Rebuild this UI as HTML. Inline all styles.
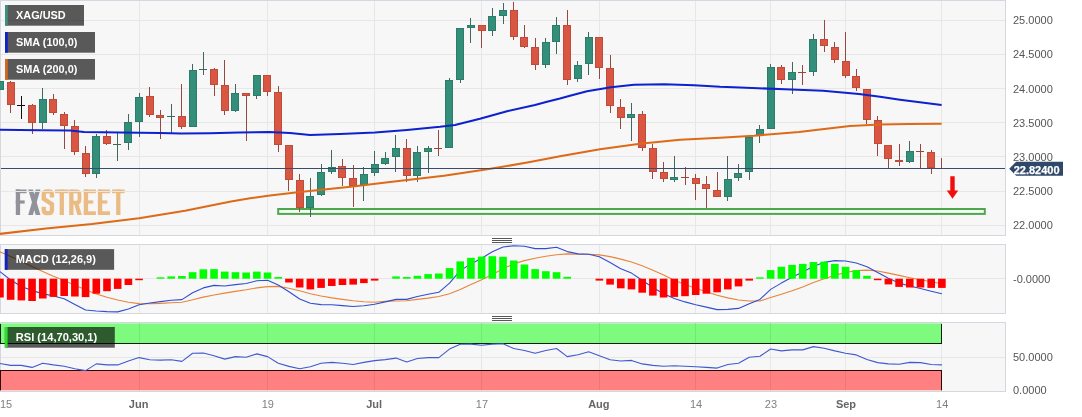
<!DOCTYPE html>
<html><head><meta charset="utf-8"><title>XAG/USD</title>
<style>html,body{margin:0;padding:0;background:#fff;}body{width:1082px;height:417px;overflow:hidden;font-family:"Liberation Sans",sans-serif;}svg{display:block;will-change:transform;}</style></head>
<body>
<svg width="1082" height="417" viewBox="0 0 1082 417" font-family="'Liberation Sans', sans-serif">
<defs><clipPath id="c1"><rect x="0" y="1" width="1005" height="234"/></clipPath><clipPath id="c2"><rect x="0" y="245" width="1005" height="68"/></clipPath><clipPath id="c3"><rect x="0" y="323" width="1005" height="68"/></clipPath></defs>
<rect width="1082" height="417" fill="#fff"/>
<rect x="0.5" y="0.5" width="1005" height="235" fill="#f7f7f7" stroke="#d4d7e0" stroke-width="1"/>
<rect x="0.5" y="244.5" width="1005" height="69" fill="#f7f7f7" stroke="#d4d7e0" stroke-width="1"/>
<rect x="0.5" y="322.5" width="1005" height="69" fill="#f7f7f7" stroke="#d4d7e0" stroke-width="1"/>
<rect x="15.8" y="189.5" width="4.3" height="25.5" fill="#92929b"/>
<rect x="15.8" y="189.5" width="10.8" height="3.7" fill="#92929b"/>
<rect x="15.8" y="200.4" width="8.86" height="3.2" fill="#92929b"/>
<path d="M28.2 189.5 h4.7 L40.4 215 h-4.7 Z" fill="#92929b"/>
<path d="M40.4 189.5 h-4.7 L28.2 215 h4.7 Z" fill="#92929b"/>
<path d="M51.95 197.55 V194.55 Q51.95 191.35 48.75 191.35 H46.95 Q43.75 191.35 43.75 194.55 V198.85 L51.95 204.15 V209.95 Q51.95 213.15 48.75 213.15 H46.95 Q43.75 213.15 43.75 209.95 V206.65" fill="none" stroke="#eabb84" stroke-width="4.3"/>
<rect x="55" y="189.5" width="13.6" height="3.7" fill="#eabb84"/>
<rect x="59.65" y="189.5" width="4.3" height="25.5" fill="#eabb84"/>
<rect x="69.2" y="189.5" width="4.3" height="25.5" fill="#eabb84"/>
<path d="M71.35 191.35 H76.45 Q79.45 191.35 79.45 194.35 V199.7 Q79.45 202.7 76.45 202.7 H71.35" fill="none" stroke="#eabb84" stroke-width="3.7"/>
<path d="M73.8 202.7 h4.4 L81.8 215 h-4.5 Z" fill="#eabb84"/>
<rect x="83.8" y="189.5" width="4.3" height="25.5" fill="#eabb84"/>
<rect x="83.8" y="189.5" width="12.1" height="3.7" fill="#eabb84"/>
<rect x="83.8" y="211.3" width="12.1" height="3.7" fill="#eabb84"/>
<rect x="83.8" y="200.4" width="9.44" height="3.2" fill="#eabb84"/>
<rect x="97.9" y="189.5" width="4.3" height="25.5" fill="#eabb84"/>
<rect x="97.9" y="189.5" width="12.1" height="3.7" fill="#eabb84"/>
<rect x="97.9" y="211.3" width="12.1" height="3.7" fill="#eabb84"/>
<rect x="97.9" y="200.4" width="9.44" height="3.2" fill="#eabb84"/>
<rect x="112" y="189.5" width="12.6" height="3.7" fill="#eabb84"/>
<rect x="116.15" y="189.5" width="4.3" height="25.5" fill="#eabb84"/>
<rect x="139" y="1" width="1" height="234" fill="#e7e7e7"/>
<rect x="267" y="1" width="1" height="234" fill="#e7e7e7"/>
<rect x="374" y="1" width="1" height="234" fill="#e7e7e7"/>
<rect x="481" y="1" width="1" height="234" fill="#e7e7e7"/>
<rect x="599" y="1" width="1" height="234" fill="#e7e7e7"/>
<rect x="695" y="1" width="1" height="234" fill="#e7e7e7"/>
<rect x="770" y="1" width="1" height="234" fill="#e7e7e7"/>
<rect x="845" y="1" width="1" height="234" fill="#e7e7e7"/>
<rect x="941" y="1" width="1" height="234" fill="#e7e7e7"/>
<rect x="139" y="245" width="1" height="68" fill="#e7e7e7"/>
<rect x="267" y="245" width="1" height="68" fill="#e7e7e7"/>
<rect x="374" y="245" width="1" height="68" fill="#e7e7e7"/>
<rect x="481" y="245" width="1" height="68" fill="#e7e7e7"/>
<rect x="599" y="245" width="1" height="68" fill="#e7e7e7"/>
<rect x="695" y="245" width="1" height="68" fill="#e7e7e7"/>
<rect x="770" y="245" width="1" height="68" fill="#e7e7e7"/>
<rect x="845" y="245" width="1" height="68" fill="#e7e7e7"/>
<rect x="941" y="245" width="1" height="68" fill="#e7e7e7"/>
<rect x="139" y="323" width="1" height="68" fill="#e7e7e7"/>
<rect x="267" y="323" width="1" height="68" fill="#e7e7e7"/>
<rect x="374" y="323" width="1" height="68" fill="#e7e7e7"/>
<rect x="481" y="323" width="1" height="68" fill="#e7e7e7"/>
<rect x="599" y="323" width="1" height="68" fill="#e7e7e7"/>
<rect x="695" y="323" width="1" height="68" fill="#e7e7e7"/>
<rect x="770" y="323" width="1" height="68" fill="#e7e7e7"/>
<rect x="845" y="323" width="1" height="68" fill="#e7e7e7"/>
<rect x="941" y="323" width="1" height="68" fill="#e7e7e7"/>
<rect x="1" y="20" width="1004" height="1" fill="#e7e7e7"/>
<rect x="1" y="54" width="1004" height="1" fill="#e7e7e7"/>
<rect x="1" y="88" width="1004" height="1" fill="#e7e7e7"/>
<rect x="1" y="122" width="1004" height="1" fill="#e7e7e7"/>
<rect x="1" y="156" width="1004" height="1" fill="#e7e7e7"/>
<rect x="1" y="191" width="1004" height="1" fill="#e7e7e7"/>
<rect x="1" y="225" width="1004" height="1" fill="#e7e7e7"/>
<rect x="1" y="278" width="1004" height="1" fill="#e7e7e7"/>
<rect x="1" y="357" width="1004" height="1" fill="#e7e7e7"/>
<g clip-path="url(#c1)">
<rect x="278.2" y="209" width="706.6" height="4.9" fill="#f1fbf0" stroke="#4fa64f" stroke-width="2"/>
<rect x="-1" y="75" width="1" height="21" fill="#42675e"/>
<rect x="-4" y="81" width="8" height="9" fill="#2c7c69"/>
<rect x="-3" y="82" width="6" height="7" fill="#338f7a"/>
<rect x="10" y="81" width="1" height="32" fill="#96483f"/>
<rect x="7" y="82" width="8" height="23" fill="#bf4b3a"/>
<rect x="8" y="83" width="6" height="21" fill="#d85642"/>
<rect x="21" y="96" width="1" height="23" fill="#111"/>
<rect x="17" y="105" width="8" height="1" fill="#111"/>
<rect x="32" y="104" width="1" height="30" fill="#96483f"/>
<rect x="28" y="105" width="8" height="18" fill="#bf4b3a"/>
<rect x="29" y="106" width="6" height="16" fill="#d85642"/>
<rect x="42" y="88" width="1" height="41" fill="#42675e"/>
<rect x="39" y="99" width="8" height="24" fill="#2c7c69"/>
<rect x="40" y="100" width="6" height="22" fill="#338f7a"/>
<rect x="53" y="94" width="1" height="21" fill="#96483f"/>
<rect x="49" y="99" width="8" height="14" fill="#bf4b3a"/>
<rect x="50" y="100" width="6" height="12" fill="#d85642"/>
<rect x="64" y="112" width="1" height="37" fill="#96483f"/>
<rect x="60" y="114" width="8" height="12" fill="#bf4b3a"/>
<rect x="61" y="115" width="6" height="10" fill="#d85642"/>
<rect x="74" y="120" width="1" height="35" fill="#96483f"/>
<rect x="71" y="126" width="8" height="26" fill="#bf4b3a"/>
<rect x="72" y="127" width="6" height="24" fill="#d85642"/>
<rect x="85" y="146" width="1" height="31" fill="#96483f"/>
<rect x="82" y="153" width="8" height="21" fill="#bf4b3a"/>
<rect x="83" y="154" width="6" height="19" fill="#d85642"/>
<rect x="96" y="134" width="1" height="44" fill="#42675e"/>
<rect x="92" y="136" width="8" height="38" fill="#2c7c69"/>
<rect x="93" y="137" width="6" height="36" fill="#338f7a"/>
<rect x="106" y="130" width="1" height="15" fill="#96483f"/>
<rect x="103" y="136" width="8" height="8" fill="#bf4b3a"/>
<rect x="104" y="137" width="6" height="6" fill="#d85642"/>
<rect x="117" y="133" width="1" height="28" fill="#42675e"/>
<rect x="113" y="144" width="8" height="1" fill="#42675e"/>
<rect x="128" y="114" width="1" height="36" fill="#42675e"/>
<rect x="124" y="122" width="8" height="21" fill="#2c7c69"/>
<rect x="125" y="123" width="6" height="19" fill="#338f7a"/>
<rect x="139" y="93" width="1" height="44" fill="#42675e"/>
<rect x="135" y="97" width="8" height="25" fill="#2c7c69"/>
<rect x="136" y="98" width="6" height="23" fill="#338f7a"/>
<rect x="149" y="87" width="1" height="30" fill="#96483f"/>
<rect x="146" y="96" width="8" height="19" fill="#bf4b3a"/>
<rect x="147" y="97" width="6" height="17" fill="#d85642"/>
<rect x="160" y="110" width="1" height="29" fill="#96483f"/>
<rect x="156" y="115" width="8" height="3" fill="#bf4b3a"/>
<rect x="157" y="116" width="6" height="1" fill="#d85642"/>
<rect x="171" y="104" width="1" height="29" fill="#42675e"/>
<rect x="167" y="116" width="8" height="1" fill="#42675e"/>
<rect x="181" y="84" width="1" height="45" fill="#96483f"/>
<rect x="178" y="116" width="8" height="11" fill="#bf4b3a"/>
<rect x="179" y="117" width="6" height="9" fill="#d85642"/>
<rect x="192" y="64" width="1" height="63" fill="#42675e"/>
<rect x="189" y="70" width="8" height="57" fill="#2c7c69"/>
<rect x="190" y="71" width="6" height="55" fill="#338f7a"/>
<rect x="203" y="52" width="1" height="23" fill="#42675e"/>
<rect x="199" y="69" width="8" height="1" fill="#42675e"/>
<rect x="214" y="68" width="1" height="28" fill="#96483f"/>
<rect x="210" y="69" width="8" height="16" fill="#bf4b3a"/>
<rect x="211" y="70" width="6" height="14" fill="#d85642"/>
<rect x="224" y="60" width="1" height="55" fill="#96483f"/>
<rect x="221" y="85" width="8" height="26" fill="#bf4b3a"/>
<rect x="222" y="86" width="6" height="24" fill="#d85642"/>
<rect x="235" y="84" width="1" height="28" fill="#42675e"/>
<rect x="231" y="93" width="8" height="18" fill="#2c7c69"/>
<rect x="232" y="94" width="6" height="16" fill="#338f7a"/>
<rect x="246" y="93" width="1" height="48" fill="#96483f"/>
<rect x="242" y="93" width="8" height="3" fill="#bf4b3a"/>
<rect x="243" y="94" width="6" height="1" fill="#d85642"/>
<rect x="256" y="75" width="1" height="24" fill="#42675e"/>
<rect x="253" y="75" width="8" height="21" fill="#2c7c69"/>
<rect x="254" y="76" width="6" height="19" fill="#338f7a"/>
<rect x="267" y="75" width="1" height="21" fill="#96483f"/>
<rect x="263" y="75" width="8" height="17" fill="#bf4b3a"/>
<rect x="264" y="76" width="6" height="15" fill="#d85642"/>
<rect x="278" y="86" width="1" height="66" fill="#96483f"/>
<rect x="274" y="92" width="8" height="53" fill="#bf4b3a"/>
<rect x="275" y="93" width="6" height="51" fill="#d85642"/>
<rect x="288" y="145" width="1" height="46" fill="#96483f"/>
<rect x="285" y="145" width="8" height="35" fill="#bf4b3a"/>
<rect x="286" y="146" width="6" height="33" fill="#d85642"/>
<rect x="299" y="174" width="1" height="38" fill="#96483f"/>
<rect x="296" y="180" width="8" height="28" fill="#bf4b3a"/>
<rect x="297" y="181" width="6" height="26" fill="#d85642"/>
<rect x="310" y="178" width="1" height="39" fill="#42675e"/>
<rect x="306" y="196" width="8" height="12" fill="#2c7c69"/>
<rect x="307" y="197" width="6" height="10" fill="#338f7a"/>
<rect x="321" y="164" width="1" height="32" fill="#42675e"/>
<rect x="317" y="172" width="8" height="23" fill="#2c7c69"/>
<rect x="318" y="173" width="6" height="21" fill="#338f7a"/>
<rect x="331" y="150" width="1" height="24" fill="#42675e"/>
<rect x="328" y="167" width="8" height="5" fill="#2c7c69"/>
<rect x="329" y="168" width="6" height="3" fill="#338f7a"/>
<rect x="342" y="159" width="1" height="27" fill="#96483f"/>
<rect x="338" y="166" width="8" height="12" fill="#bf4b3a"/>
<rect x="339" y="167" width="6" height="10" fill="#d85642"/>
<rect x="353" y="165" width="1" height="42" fill="#96483f"/>
<rect x="349" y="178" width="8" height="8" fill="#bf4b3a"/>
<rect x="350" y="179" width="6" height="6" fill="#d85642"/>
<rect x="363" y="167" width="1" height="34" fill="#42675e"/>
<rect x="360" y="174" width="8" height="11" fill="#2c7c69"/>
<rect x="361" y="175" width="6" height="9" fill="#338f7a"/>
<rect x="374" y="151" width="1" height="25" fill="#42675e"/>
<rect x="371" y="164" width="8" height="9" fill="#2c7c69"/>
<rect x="372" y="165" width="6" height="7" fill="#338f7a"/>
<rect x="385" y="152" width="1" height="13" fill="#42675e"/>
<rect x="381" y="158" width="8" height="6" fill="#2c7c69"/>
<rect x="382" y="159" width="6" height="4" fill="#338f7a"/>
<rect x="395" y="135" width="1" height="37" fill="#42675e"/>
<rect x="392" y="148" width="8" height="9" fill="#2c7c69"/>
<rect x="393" y="149" width="6" height="7" fill="#338f7a"/>
<rect x="406" y="139" width="1" height="43" fill="#96483f"/>
<rect x="403" y="148" width="8" height="28" fill="#bf4b3a"/>
<rect x="404" y="149" width="6" height="26" fill="#d85642"/>
<rect x="417" y="146" width="1" height="36" fill="#42675e"/>
<rect x="413" y="152" width="8" height="24" fill="#2c7c69"/>
<rect x="414" y="153" width="6" height="22" fill="#338f7a"/>
<rect x="428" y="146" width="1" height="27" fill="#42675e"/>
<rect x="424" y="148" width="8" height="4" fill="#2c7c69"/>
<rect x="425" y="149" width="6" height="2" fill="#338f7a"/>
<rect x="438" y="130" width="1" height="26" fill="#96483f"/>
<rect x="434" y="148" width="8" height="1" fill="#96483f"/>
<rect x="449" y="78" width="1" height="70" fill="#42675e"/>
<rect x="445" y="80" width="8" height="68" fill="#2c7c69"/>
<rect x="446" y="81" width="6" height="66" fill="#338f7a"/>
<rect x="460" y="28" width="1" height="55" fill="#42675e"/>
<rect x="456" y="28" width="8" height="52" fill="#2c7c69"/>
<rect x="457" y="29" width="6" height="50" fill="#338f7a"/>
<rect x="470" y="18" width="1" height="25" fill="#42675e"/>
<rect x="467" y="25" width="8" height="3" fill="#2c7c69"/>
<rect x="468" y="26" width="6" height="1" fill="#338f7a"/>
<rect x="481" y="25" width="1" height="23" fill="#96483f"/>
<rect x="478" y="25" width="8" height="6" fill="#bf4b3a"/>
<rect x="479" y="26" width="6" height="4" fill="#d85642"/>
<rect x="492" y="8" width="1" height="28" fill="#42675e"/>
<rect x="488" y="16" width="8" height="15" fill="#2c7c69"/>
<rect x="489" y="17" width="6" height="13" fill="#338f7a"/>
<rect x="503" y="3" width="1" height="21" fill="#42675e"/>
<rect x="499" y="10" width="8" height="6" fill="#2c7c69"/>
<rect x="500" y="11" width="6" height="4" fill="#338f7a"/>
<rect x="513" y="2" width="1" height="38" fill="#96483f"/>
<rect x="510" y="10" width="8" height="27" fill="#bf4b3a"/>
<rect x="511" y="11" width="6" height="25" fill="#d85642"/>
<rect x="524" y="25" width="1" height="23" fill="#96483f"/>
<rect x="520" y="37" width="8" height="10" fill="#bf4b3a"/>
<rect x="521" y="38" width="6" height="8" fill="#d85642"/>
<rect x="535" y="38" width="1" height="32" fill="#96483f"/>
<rect x="531" y="47" width="8" height="18" fill="#bf4b3a"/>
<rect x="532" y="48" width="6" height="16" fill="#d85642"/>
<rect x="545" y="38" width="1" height="30" fill="#42675e"/>
<rect x="542" y="42" width="8" height="23" fill="#2c7c69"/>
<rect x="543" y="43" width="6" height="21" fill="#338f7a"/>
<rect x="556" y="17" width="1" height="37" fill="#42675e"/>
<rect x="552" y="25" width="8" height="17" fill="#2c7c69"/>
<rect x="553" y="26" width="6" height="15" fill="#338f7a"/>
<rect x="567" y="10" width="1" height="75" fill="#96483f"/>
<rect x="563" y="25" width="8" height="55" fill="#bf4b3a"/>
<rect x="564" y="26" width="6" height="53" fill="#d85642"/>
<rect x="577" y="61" width="1" height="21" fill="#42675e"/>
<rect x="574" y="65" width="8" height="14" fill="#2c7c69"/>
<rect x="575" y="66" width="6" height="12" fill="#338f7a"/>
<rect x="588" y="32" width="1" height="43" fill="#42675e"/>
<rect x="585" y="37" width="8" height="27" fill="#2c7c69"/>
<rect x="586" y="38" width="6" height="25" fill="#338f7a"/>
<rect x="599" y="37" width="1" height="42" fill="#96483f"/>
<rect x="595" y="37" width="8" height="31" fill="#bf4b3a"/>
<rect x="596" y="38" width="6" height="29" fill="#d85642"/>
<rect x="610" y="55" width="1" height="58" fill="#96483f"/>
<rect x="606" y="68" width="8" height="38" fill="#bf4b3a"/>
<rect x="607" y="69" width="6" height="36" fill="#d85642"/>
<rect x="620" y="99" width="1" height="30" fill="#96483f"/>
<rect x="617" y="107" width="8" height="11" fill="#bf4b3a"/>
<rect x="618" y="108" width="6" height="9" fill="#d85642"/>
<rect x="631" y="103" width="1" height="38" fill="#42675e"/>
<rect x="627" y="114" width="8" height="4" fill="#2c7c69"/>
<rect x="628" y="115" width="6" height="2" fill="#338f7a"/>
<rect x="642" y="111" width="1" height="40" fill="#96483f"/>
<rect x="638" y="114" width="8" height="34" fill="#bf4b3a"/>
<rect x="639" y="115" width="6" height="32" fill="#d85642"/>
<rect x="652" y="144" width="1" height="35" fill="#96483f"/>
<rect x="649" y="148" width="8" height="24" fill="#bf4b3a"/>
<rect x="650" y="149" width="6" height="22" fill="#d85642"/>
<rect x="663" y="162" width="1" height="20" fill="#96483f"/>
<rect x="660" y="172" width="8" height="7" fill="#bf4b3a"/>
<rect x="661" y="173" width="6" height="5" fill="#d85642"/>
<rect x="674" y="156" width="1" height="26" fill="#42675e"/>
<rect x="670" y="177" width="8" height="3" fill="#2c7c69"/>
<rect x="671" y="178" width="6" height="1" fill="#338f7a"/>
<rect x="685" y="167" width="1" height="18" fill="#96483f"/>
<rect x="681" y="177" width="8" height="1" fill="#96483f"/>
<rect x="695" y="174" width="1" height="26" fill="#96483f"/>
<rect x="692" y="178" width="8" height="6" fill="#bf4b3a"/>
<rect x="693" y="179" width="6" height="4" fill="#d85642"/>
<rect x="706" y="176" width="1" height="32" fill="#96483f"/>
<rect x="702" y="184" width="8" height="5" fill="#bf4b3a"/>
<rect x="703" y="185" width="6" height="3" fill="#d85642"/>
<rect x="717" y="172" width="1" height="25" fill="#96483f"/>
<rect x="713" y="190" width="8" height="7" fill="#bf4b3a"/>
<rect x="714" y="191" width="6" height="5" fill="#d85642"/>
<rect x="727" y="156" width="1" height="45" fill="#42675e"/>
<rect x="724" y="179" width="8" height="18" fill="#2c7c69"/>
<rect x="725" y="180" width="6" height="16" fill="#338f7a"/>
<rect x="738" y="164" width="1" height="17" fill="#42675e"/>
<rect x="734" y="173" width="8" height="5" fill="#2c7c69"/>
<rect x="735" y="174" width="6" height="3" fill="#338f7a"/>
<rect x="749" y="137" width="1" height="43" fill="#42675e"/>
<rect x="745" y="137" width="8" height="35" fill="#2c7c69"/>
<rect x="746" y="138" width="6" height="33" fill="#338f7a"/>
<rect x="759" y="125" width="1" height="18" fill="#42675e"/>
<rect x="756" y="129" width="8" height="7" fill="#2c7c69"/>
<rect x="757" y="130" width="6" height="5" fill="#338f7a"/>
<rect x="770" y="64" width="1" height="65" fill="#42675e"/>
<rect x="767" y="67" width="8" height="62" fill="#2c7c69"/>
<rect x="768" y="68" width="6" height="60" fill="#338f7a"/>
<rect x="781" y="65" width="1" height="19" fill="#96483f"/>
<rect x="777" y="67" width="8" height="13" fill="#bf4b3a"/>
<rect x="778" y="68" width="6" height="11" fill="#d85642"/>
<rect x="792" y="62" width="1" height="32" fill="#42675e"/>
<rect x="788" y="72" width="8" height="8" fill="#2c7c69"/>
<rect x="789" y="73" width="6" height="6" fill="#338f7a"/>
<rect x="802" y="65" width="1" height="20" fill="#96483f"/>
<rect x="798" y="72" width="8" height="1" fill="#96483f"/>
<rect x="813" y="34" width="1" height="42" fill="#42675e"/>
<rect x="809" y="39" width="8" height="33" fill="#2c7c69"/>
<rect x="810" y="40" width="6" height="31" fill="#338f7a"/>
<rect x="824" y="20" width="1" height="32" fill="#96483f"/>
<rect x="820" y="39" width="8" height="7" fill="#bf4b3a"/>
<rect x="821" y="40" width="6" height="5" fill="#d85642"/>
<rect x="834" y="42" width="1" height="21" fill="#96483f"/>
<rect x="831" y="47" width="8" height="13" fill="#bf4b3a"/>
<rect x="832" y="48" width="6" height="11" fill="#d85642"/>
<rect x="845" y="32" width="1" height="46" fill="#96483f"/>
<rect x="842" y="61" width="8" height="15" fill="#bf4b3a"/>
<rect x="843" y="62" width="6" height="13" fill="#d85642"/>
<rect x="856" y="69" width="1" height="22" fill="#96483f"/>
<rect x="852" y="76" width="8" height="12" fill="#bf4b3a"/>
<rect x="853" y="77" width="6" height="10" fill="#d85642"/>
<rect x="866" y="89" width="1" height="35" fill="#96483f"/>
<rect x="863" y="89" width="8" height="31" fill="#bf4b3a"/>
<rect x="864" y="90" width="6" height="29" fill="#d85642"/>
<rect x="877" y="116" width="1" height="40" fill="#96483f"/>
<rect x="874" y="120" width="8" height="24" fill="#bf4b3a"/>
<rect x="875" y="121" width="6" height="22" fill="#d85642"/>
<rect x="888" y="145" width="1" height="23" fill="#96483f"/>
<rect x="884" y="145" width="8" height="14" fill="#bf4b3a"/>
<rect x="885" y="146" width="6" height="12" fill="#d85642"/>
<rect x="899" y="144" width="1" height="22" fill="#96483f"/>
<rect x="895" y="160" width="8" height="2" fill="#bf4b3a"/>
<rect x="909" y="141" width="1" height="22" fill="#42675e"/>
<rect x="906" y="151" width="8" height="11" fill="#2c7c69"/>
<rect x="907" y="152" width="6" height="9" fill="#338f7a"/>
<rect x="920" y="144" width="1" height="24" fill="#96483f"/>
<rect x="916" y="151" width="8" height="1" fill="#96483f"/>
<rect x="931" y="150" width="1" height="24" fill="#96483f"/>
<rect x="927" y="152" width="8" height="16" fill="#bf4b3a"/>
<rect x="928" y="153" width="6" height="14" fill="#d85642"/>
<rect x="941" y="158" width="1" height="11" fill="#96483f"/>
<path d="M-2 129.8 L40 130.2 L70 130.6 L84 132 L120 132.5 L160 133 L181 133.6 L210 133.2 L239 132.5 L269 131.9 L290 132.9 L310 134.9 L340 133.9 L375 132.5 L407 129.9 L440 126.8 L455 124.9 L480 118.7 L507 111.2 L535 105 L547 101.7 L560 98.6 L570 95.8 L587 91.2 L611 87.2 L634 84.8 L664 84.2 L694 85.3 L720 86.8 L740 87.5 L785 89.3 L823 90.8 L859 93.9 L880 96.8 L900 99.7 L941.6 105" fill="none" stroke="#0d21cf" stroke-width="2.05" stroke-linejoin="round"/>
<path d="M-2 234.1 L46 228.6 L92 224 L139 218.2 L185 210.8 L231 201.6 L250 198.3 L270 195.5 L300 192.1 L353 186.4 L390 182 L444 175.8 L489 169.1 L530 162.1 L560 156.3 L600 149.2 L640 143.7 L680 139.7 L720 137.7 L754 135.7 L799 132 L820 129.5 L850 126.1 L880 124.5 L909 124.1 L941.6 123.8" fill="none" stroke="#dd6a17" stroke-width="2.05" stroke-linejoin="round"/>
<rect x="1" y="168" width="1004.5" height="1" fill="#3a4c6e"/>
<path d="M950.3 176.3 H954.7 V190.6 H958.2 L952.5 198.8 L946.8 190.6 H950.3 Z" fill="#f20d0d"/>
</g>
<rect x="5" y="5" width="79" height="20.7" fill="rgba(0,0,0,0.64)"/>
<rect x="5" y="5" width="2.8" height="20.7" fill="#3f8f7e"/>
<text x="16" y="19.2" font-size="10.9" font-weight="bold" fill="#fff">XAG/USD</text>
<rect x="5" y="32" width="90" height="20.7" fill="rgba(0,0,0,0.64)"/>
<rect x="5" y="32" width="2.8" height="20.7" fill="#1022c8"/>
<text x="16" y="46.2" font-size="10.9" font-weight="bold" fill="#fff">SMA (100,0)</text>
<rect x="5" y="59" width="90" height="20.7" fill="rgba(0,0,0,0.64)"/>
<rect x="5" y="59" width="2.8" height="20.7" fill="#d2691e"/>
<text x="16" y="73.2" font-size="10.9" font-weight="bold" fill="#fff">SMA (200,0)</text>
<g clip-path="url(#c2)">
<path d="M-0.05 251.8 L10.65 256.5 L21.36 261.5 L32.06 266.5 L42.77 271.5 L53.47 276.2 L64.17 280.6 L74.88 285.2 L85.58 289.8 L96.29 294 L106.99 297.3 L117.69 300 L128.4 302.2 L139.1 303.6 L149.81 303.7 L160.51 303.4 L171.21 302.7 L181.92 302.2 L192.62 299.8 L203.33 297.1 L214.03 295 L224.73 293.1 L235.44 291.4 L246.14 289.8 L256.85 287.9 L267.55 286.6 L278.25 286.4 L288.96 288.3 L299.66 290.8 L310.37 293.7 L321.07 296 L331.77 297.9 L342.48 299.4 L353.18 300.8 L363.89 301.7 L374.59 302.3 L385.29 301.3 L396 301 L406.7 300.8 L417.41 299.4 L428.11 298.1 L438.81 296.5 L449.52 293.7 L460.22 289.4 L470.93 284.6 L481.63 279.7 L492.33 274.5 L503.04 268.7 L513.74 263.9 L524.45 260.6 L535.15 258.2 L545.85 256.2 L556.56 254.7 L567.26 253.9 L577.97 254.3 L588.67 254.3 L599.37 254.9 L610.08 256.6 L620.78 259.1 L631.49 262 L642.19 265.8 L652.89 270.2 L663.6 275 L674.3 280.2 L685.01 284.6 L695.71 288.3 L706.41 291.7 L717.12 295.2 L727.82 297.9 L738.53 300 L749.23 301 L759.93 301 L770.64 297.5 L781.34 294.2 L792.05 290.8 L802.75 286.9 L813.45 282.5 L824.16 278.7 L834.86 275.4 L845.57 272.5 L856.27 270.6 L866.97 270.1 L877.68 271 L888.38 273.1 L899.09 275.4 L909.79 277.7 L920.49 279.8 L931.2 281.8 L941.9 283.7" fill="none" stroke="#e8853a" stroke-width="1.1" stroke-linejoin="round"/>
<path d="M-0.05 271.6 L10.65 280 L21.36 286.5 L32.06 290.6 L42.77 293.6 L53.47 296 L64.17 298.8 L74.88 304.5 L85.58 310 L96.29 311 L106.99 311.6 L117.69 311.9 L128.4 309 L139.1 304.7 L149.81 303 L160.51 301.6 L171.21 300.3 L181.92 299.6 L192.62 292.7 L203.33 287.9 L214.03 285.4 L224.73 286 L235.44 284.6 L246.14 283.5 L256.85 280.8 L267.55 280.2 L278.25 285 L288.96 291.7 L299.66 299 L310.37 303.3 L321.07 304.6 L331.77 304.8 L342.48 305.6 L353.18 306.5 L363.89 305.8 L374.59 304.2 L385.29 301.9 L396 299.4 L406.7 299.4 L417.41 296.5 L428.11 294.2 L438.81 292.3 L449.52 283.1 L460.22 270.6 L470.93 263.9 L481.63 258.2 L492.33 251.8 L503.04 247 L513.74 245.7 L524.45 246.3 L535.15 248.6 L545.85 248.6 L556.56 247.2 L567.26 251.6 L577.97 253.9 L588.67 254.3 L599.37 256.8 L610.08 262.6 L620.78 268.7 L631.49 273.1 L642.19 280.2 L652.89 287.5 L663.6 293.7 L674.3 298.5 L685.01 301.9 L695.71 304.8 L706.41 307.1 L717.12 309.6 L727.82 309.4 L738.53 308.4 L749.23 303.8 L759.93 299.4 L770.64 289.4 L781.34 283.1 L792.05 277.3 L802.75 272 L813.45 266.2 L824.16 262.4 L834.86 260.6 L845.57 261 L856.27 263 L866.97 266.8 L877.68 272.5 L888.38 278.3 L899.09 283.1 L909.79 286 L920.49 288.5 L931.2 291.2 L941.9 293.7" fill="none" stroke="#2f4fd0" stroke-width="1.1" stroke-linejoin="round"/>
<rect x="-3.85" y="278.7" width="7.6" height="18.8" fill="#f00"/>
<rect x="6.85" y="278.7" width="7.6" height="21.1" fill="#f00"/>
<rect x="17.56" y="278.7" width="7.6" height="21.7" fill="#f00"/>
<rect x="28.26" y="278.7" width="7.6" height="22.3" fill="#f00"/>
<rect x="38.97" y="278.7" width="7.6" height="19.8" fill="#f00"/>
<rect x="49.67" y="278.7" width="7.6" height="18.2" fill="#f00"/>
<rect x="60.37" y="278.7" width="7.6" height="17.3" fill="#f00"/>
<rect x="71.08" y="278.7" width="7.6" height="17.8" fill="#f00"/>
<rect x="81.78" y="278.7" width="7.6" height="18.4" fill="#f00"/>
<rect x="92.49" y="278.7" width="7.6" height="15" fill="#f00"/>
<rect x="103.19" y="278.7" width="7.6" height="12.5" fill="#f00"/>
<rect x="113.89" y="278.7" width="7.6" height="10.2" fill="#f00"/>
<rect x="124.6" y="278.7" width="7.6" height="6.3" fill="#f00"/>
<rect x="135.3" y="278.7" width="7.6" height="1.5" fill="#f00"/>
<rect x="156.71" y="277.3" width="7.6" height="1.4" fill="#0f0"/>
<rect x="167.41" y="276.4" width="7.6" height="2.3" fill="#0f0"/>
<rect x="178.12" y="276" width="7.6" height="2.7" fill="#0f0"/>
<rect x="188.82" y="272.2" width="7.6" height="6.5" fill="#0f0"/>
<rect x="199.53" y="269.3" width="7.6" height="9.4" fill="#0f0"/>
<rect x="210.23" y="269.1" width="7.6" height="9.6" fill="#0f0"/>
<rect x="220.93" y="271.6" width="7.6" height="7.1" fill="#0f0"/>
<rect x="231.64" y="272.2" width="7.6" height="6.5" fill="#0f0"/>
<rect x="242.34" y="272.5" width="7.6" height="6.2" fill="#0f0"/>
<rect x="253.05" y="271.6" width="7.6" height="7.1" fill="#0f0"/>
<rect x="263.75" y="272.5" width="7.6" height="6.2" fill="#0f0"/>
<rect x="274.45" y="277" width="7.6" height="1.7" fill="#0f0"/>
<rect x="285.16" y="278.7" width="7.6" height="3.8" fill="#f00"/>
<rect x="295.86" y="278.7" width="7.6" height="8.8" fill="#f00"/>
<rect x="306.57" y="278.7" width="7.6" height="10.7" fill="#f00"/>
<rect x="317.27" y="278.7" width="7.6" height="9.2" fill="#f00"/>
<rect x="327.97" y="278.7" width="7.6" height="7.3" fill="#f00"/>
<rect x="338.68" y="278.7" width="7.6" height="6.3" fill="#f00"/>
<rect x="349.38" y="278.7" width="7.6" height="5.9" fill="#f00"/>
<rect x="360.09" y="278.7" width="7.6" height="4.4" fill="#f00"/>
<rect x="370.79" y="278.7" width="7.6" height="1.9" fill="#f00"/>
<rect x="392.2" y="276.4" width="7.6" height="2.3" fill="#0f0"/>
<rect x="402.9" y="277" width="7.6" height="1.7" fill="#0f0"/>
<rect x="413.61" y="275.8" width="7.6" height="2.9" fill="#0f0"/>
<rect x="424.31" y="274.1" width="7.6" height="4.6" fill="#0f0"/>
<rect x="435.01" y="273.5" width="7.6" height="5.2" fill="#0f0"/>
<rect x="445.72" y="268.1" width="7.6" height="10.6" fill="#0f0"/>
<rect x="456.42" y="261.4" width="7.6" height="17.3" fill="#0f0"/>
<rect x="467.13" y="257.8" width="7.6" height="20.9" fill="#0f0"/>
<rect x="477.83" y="256.6" width="7.6" height="22.1" fill="#0f0"/>
<rect x="488.53" y="256.2" width="7.6" height="22.5" fill="#0f0"/>
<rect x="499.24" y="256.8" width="7.6" height="21.9" fill="#0f0"/>
<rect x="509.94" y="260.5" width="7.6" height="18.2" fill="#0f0"/>
<rect x="520.65" y="264.5" width="7.6" height="14.2" fill="#0f0"/>
<rect x="531.35" y="269.1" width="7.6" height="9.6" fill="#0f0"/>
<rect x="542.05" y="271.2" width="7.6" height="7.5" fill="#0f0"/>
<rect x="552.76" y="272.2" width="7.6" height="6.5" fill="#0f0"/>
<rect x="563.46" y="276.8" width="7.6" height="1.9" fill="#0f0"/>
<rect x="595.57" y="278.7" width="7.6" height="1.9" fill="#f00"/>
<rect x="606.28" y="278.7" width="7.6" height="5.9" fill="#f00"/>
<rect x="616.98" y="278.7" width="7.6" height="9.6" fill="#f00"/>
<rect x="627.69" y="278.7" width="7.6" height="10.7" fill="#f00"/>
<rect x="638.39" y="278.7" width="7.6" height="14" fill="#f00"/>
<rect x="649.09" y="278.7" width="7.6" height="16.9" fill="#f00"/>
<rect x="659.8" y="278.7" width="7.6" height="18.8" fill="#f00"/>
<rect x="670.5" y="278.7" width="7.6" height="18.2" fill="#f00"/>
<rect x="681.21" y="278.7" width="7.6" height="17.5" fill="#f00"/>
<rect x="691.91" y="278.7" width="7.6" height="16.3" fill="#f00"/>
<rect x="702.61" y="278.7" width="7.6" height="15" fill="#f00"/>
<rect x="713.32" y="278.7" width="7.6" height="13.6" fill="#f00"/>
<rect x="724.02" y="278.7" width="7.6" height="10.7" fill="#f00"/>
<rect x="734.73" y="278.7" width="7.6" height="7.7" fill="#f00"/>
<rect x="745.43" y="278.7" width="7.6" height="1.9" fill="#f00"/>
<rect x="756.13" y="277.3" width="7.6" height="1.4" fill="#0f0"/>
<rect x="766.84" y="270.1" width="7.6" height="8.6" fill="#0f0"/>
<rect x="777.54" y="266.8" width="7.6" height="11.9" fill="#0f0"/>
<rect x="788.25" y="264.9" width="7.6" height="13.8" fill="#0f0"/>
<rect x="798.95" y="263.9" width="7.6" height="14.8" fill="#0f0"/>
<rect x="809.65" y="262" width="7.6" height="16.7" fill="#0f0"/>
<rect x="820.36" y="261.6" width="7.6" height="17.1" fill="#0f0"/>
<rect x="831.06" y="263.9" width="7.6" height="14.8" fill="#0f0"/>
<rect x="841.77" y="266.8" width="7.6" height="11.9" fill="#0f0"/>
<rect x="852.47" y="270.2" width="7.6" height="8.5" fill="#0f0"/>
<rect x="863.17" y="275.8" width="7.6" height="2.9" fill="#0f0"/>
<rect x="873.88" y="278.7" width="7.6" height="1.5" fill="#f00"/>
<rect x="884.58" y="278.7" width="7.6" height="5.7" fill="#f00"/>
<rect x="895.29" y="278.7" width="7.6" height="8.2" fill="#f00"/>
<rect x="905.99" y="278.7" width="7.6" height="8.8" fill="#f00"/>
<rect x="916.69" y="278.7" width="7.6" height="8.8" fill="#f00"/>
<rect x="927.4" y="278.7" width="7.6" height="9.2" fill="#f00"/>
<rect x="938.1" y="278.7" width="7.6" height="9.2" fill="#f00"/>
</g>
<rect x="4.8" y="249.1" width="109.3" height="20.7" fill="rgba(0,0,0,0.64)"/>
<rect x="4.8" y="249.1" width="2.8" height="20.7" fill="#1022c8"/>
<text x="15.8" y="263.3" font-size="11" font-weight="bold" fill="#fff">MACD (12,26,9)</text>
<g clip-path="url(#c3)">
<rect x="0" y="323.4" width="942" height="20.6" fill="#7efb7e"/>
<rect x="0" y="370" width="942" height="20" fill="#ff8080"/>
<rect x="0" y="390" width="942" height="0.6" fill="#ffb8b8"/>
<rect x="139" y="323.4" width="1" height="20" fill="#73e873"/>
<rect x="139" y="371" width="1" height="19" fill="#ec7777"/>
<rect x="267" y="323.4" width="1" height="20" fill="#73e873"/>
<rect x="267" y="371" width="1" height="19" fill="#ec7777"/>
<rect x="374" y="323.4" width="1" height="20" fill="#73e873"/>
<rect x="374" y="371" width="1" height="19" fill="#ec7777"/>
<rect x="481" y="323.4" width="1" height="20" fill="#73e873"/>
<rect x="481" y="371" width="1" height="19" fill="#ec7777"/>
<rect x="599" y="323.4" width="1" height="20" fill="#73e873"/>
<rect x="599" y="371" width="1" height="19" fill="#ec7777"/>
<rect x="695" y="323.4" width="1" height="20" fill="#73e873"/>
<rect x="695" y="371" width="1" height="19" fill="#ec7777"/>
<rect x="770" y="323.4" width="1" height="20" fill="#73e873"/>
<rect x="770" y="371" width="1" height="19" fill="#ec7777"/>
<rect x="845" y="323.4" width="1" height="20" fill="#73e873"/>
<rect x="845" y="371" width="1" height="19" fill="#ec7777"/>
<rect x="941" y="323.4" width="1" height="20" fill="#73e873"/>
<rect x="941" y="371" width="1" height="19" fill="#ec7777"/>
<rect x="0" y="343" width="942" height="1" fill="#0c1f0c"/>
<rect x="0" y="370" width="942" height="1" fill="#2a0808"/>
<rect x="0" y="324" width="1" height="20" fill="#0c1f0c"/>
<rect x="0" y="370" width="1" height="20.3" fill="#2a0808"/>
<rect x="941" y="324" width="1" height="20" fill="#0c1f0c"/>
<rect x="941" y="370" width="1" height="20.3" fill="#2a0808"/>
<path d="M-0.05 363.5 L10.65 365.4 L21.36 365.4 L32.06 367.4 L42.77 363.3 L53.47 364.9 L64.17 366.2 L74.88 368.7 L85.58 370.6 L96.29 363.9 L106.99 364.9 L117.69 364.9 L128.4 361 L139.1 357.6 L149.81 359.7 L160.51 360.1 L171.21 359.7 L181.92 361.4 L192.62 353.3 L203.33 353 L214.03 355.8 L224.73 359.1 L235.44 356.6 L246.14 357.2 L256.85 353.9 L267.55 356.6 L278.25 363.3 L288.96 366.4 L299.66 368.7 L310.37 366.8 L321.07 363.3 L331.77 362.4 L342.48 363.3 L353.18 364.5 L363.89 362.4 L374.59 360.6 L385.29 359.6 L396 358.1 L406.7 362 L417.41 358.5 L428.11 357.6 L438.81 357.6 L449.52 349.1 L460.22 344.3 L470.93 344.1 L481.63 345.3 L492.33 344.1 L503.04 343.8 L513.74 348.5 L524.45 350.5 L535.15 353.3 L545.85 350.5 L556.56 348.5 L567.26 356.6 L577.97 354.7 L588.67 351.8 L599.37 355.7 L610.08 359.7 L620.78 361 L631.49 360.4 L642.19 363.9 L652.89 365.4 L663.6 366.2 L674.3 365.8 L685.01 366.2 L695.71 366.8 L706.41 367.4 L717.12 368.1 L727.82 364.5 L738.53 363.3 L749.23 357.2 L759.93 356.2 L770.64 349 L781.34 350.9 L792.05 349.9 L802.75 349.9 L813.45 346.6 L824.16 348.2 L834.86 350.9 L845.57 353.3 L856.27 354.9 L866.97 359.5 L877.68 362.6 L888.38 363.9 L899.09 364.3 L909.79 362.4 L920.49 362.6 L931.2 364.5 L941.9 364.9" fill="none" stroke="#3f5ad0" stroke-width="1.1" stroke-linejoin="round"/>
</g>
<rect x="4.8" y="327" width="110" height="20.7" fill="rgba(0,0,0,0.64)"/>
<rect x="4.8" y="327" width="2.8" height="20.7" fill="#2fdc2f"/>
<text x="15.8" y="341.2" font-size="11.1" font-weight="bold" fill="#fff">RSI (14,70,30,1)</text>
<rect x="492" y="238" width="20" height="1" fill="#575757"/>
<rect x="492" y="240" width="20" height="1" fill="#575757"/>
<rect x="492" y="242" width="20" height="1" fill="#575757"/>
<rect x="492" y="316" width="20" height="1" fill="#575757"/>
<rect x="492" y="318" width="20" height="1" fill="#575757"/>
<rect x="492" y="320" width="20" height="1" fill="#575757"/>
<text x="1013" y="24.2" font-size="11" fill="#555">25.0000</text>
<text x="1013" y="58.4" font-size="11" fill="#555">24.5000</text>
<text x="1013" y="92.5" font-size="11" fill="#555">24.0000</text>
<text x="1013" y="126.6" font-size="11" fill="#555">23.5000</text>
<text x="1013" y="160.7" font-size="11" fill="#555">23.0000</text>
<text x="1013" y="195" font-size="11" fill="#555">22.5000</text>
<text x="1013" y="229.3" font-size="11" fill="#555">22.0000</text>
<text x="1013" y="282.9" font-size="11" fill="#555">-0.0000</text>
<text x="1013" y="361.3" font-size="11" fill="#555">50.0000</text>
<text x="1013" y="394" font-size="11" fill="#555">0.0000</text>
<path d="M1009.2 168.8 L1016.2 161.8 H1063 V175.7 H1016.2 Z" fill="#2f4769"/>
<text x="1013.7" y="173.5" font-size="11" font-weight="bold" fill="#fff" stroke="#fff" stroke-width="0.25">22.82400</text>
<text x="0" y="408" font-size="11" fill="#808080">15</text>
<text x="138.6" y="408" font-size="11" font-weight="bold" text-anchor="middle" fill="#666">Jun</text>
<text x="267.85" y="408" font-size="11" text-anchor="middle" fill="#808080">19</text>
<text x="374.09" y="408" font-size="11" font-weight="bold" text-anchor="middle" fill="#666">Jul</text>
<text x="481.93" y="408" font-size="11" text-anchor="middle" fill="#808080">17</text>
<text x="598.87" y="408" font-size="11" font-weight="bold" text-anchor="middle" fill="#666">Aug</text>
<text x="696.01" y="408" font-size="11" text-anchor="middle" fill="#808080">14</text>
<text x="770.94" y="408" font-size="11" text-anchor="middle" fill="#808080">23</text>
<text x="845.97" y="408" font-size="11" font-weight="bold" text-anchor="middle" fill="#666">Sep</text>
<text x="942.2" y="408" font-size="11" text-anchor="middle" fill="#808080">14</text>
</svg>
</body></html>
